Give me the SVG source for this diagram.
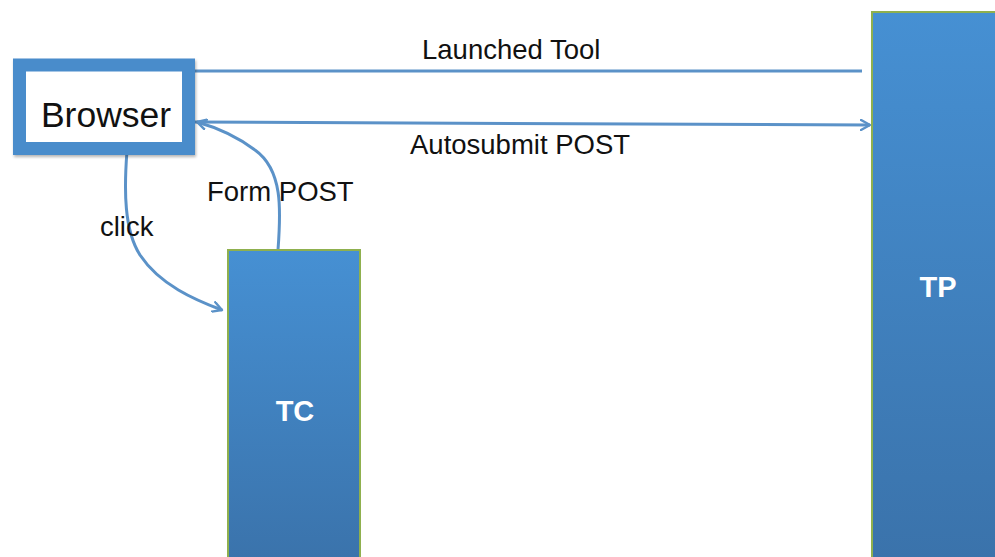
<svg xmlns="http://www.w3.org/2000/svg" width="995" height="557" viewBox="0 0 995 557">
<defs>
<linearGradient id="bar" x1="0" y1="0" x2="0" y2="1">
<stop offset="0" stop-color="#4690d3"/>
<stop offset="1" stop-color="#3a72aa"/>
</linearGradient>
<marker id="ah" viewBox="0 0 12 12" refX="10" refY="6" markerWidth="12" markerHeight="12" markerUnits="userSpaceOnUse" orient="auto">
<path d="M1,1 L10,6 L1,11" fill="none" stroke="#5b92c8" stroke-width="2.4" stroke-linecap="round" stroke-linejoin="round"/>
</marker>
<filter id="sh" x="-10%" y="-10%" width="130%" height="130%">
<feGaussianBlur in="SourceAlpha" stdDeviation="1.5"/>
<feOffset dx="1" dy="2"/>
<feComponentTransfer><feFuncA type="linear" slope="0.3"/></feComponentTransfer>
<feMerge><feMergeNode/><feMergeNode in="SourceGraphic"/></feMerge>
</filter>
</defs>
<style>
.lbl{font-family:"Liberation Sans",Arial,sans-serif;font-size:27.5px;fill:#111}
.big{font-family:"Liberation Sans",Arial,sans-serif;font-weight:bold;font-size:29px;fill:#fff;text-anchor:middle}
.con{fill:none;stroke:#5b92c8;stroke-width:3}
.bar{fill:url(#bar);stroke:#8fb04e;stroke-width:2}
</style>
<rect width="995" height="557" fill="#fff"/>
<g id="connectors">
<path class="con" d="M194,71 L862,71"/>
<path class="con" d="M194,122 L870,125" marker-end="url(#ah)"/>
<path class="con" d="M278,250 C281,210 283,170 255,150 C235,135 215,127 197,122" marker-end="url(#ah)"/>
<path class="con" d="M127,151 C124,190 124,230 140,255 C160,285 195,300 222,310" marker-end="url(#ah)"/>
<text class="lbl" x="422" y="59">Launched Tool</text>
<text class="lbl" x="410" y="154">Autosubmit POST</text>
<text class="lbl" x="207" y="201">Form POST</text>
<text class="lbl" x="100" y="236">click</text>
</g>
<g id="browser">
<rect x="19.5" y="65" width="169" height="83.5" fill="#fff" stroke="#4a8ccb" stroke-width="13" filter="url(#sh)"/>
<text x="106" y="127" font-family="'Liberation Sans',Arial,sans-serif" font-size="35.5" fill="#111" text-anchor="middle">Browser</text>
</g>
<g id="tc">
<rect class="bar" x="228" y="250" width="132" height="320"/>
<text class="big" x="295" y="421">TC</text>
</g>
<g id="tp">
<rect class="bar" x="872" y="12" width="140" height="560"/>
<text class="big" x="938" y="297">TP</text>
</g>
</svg>
